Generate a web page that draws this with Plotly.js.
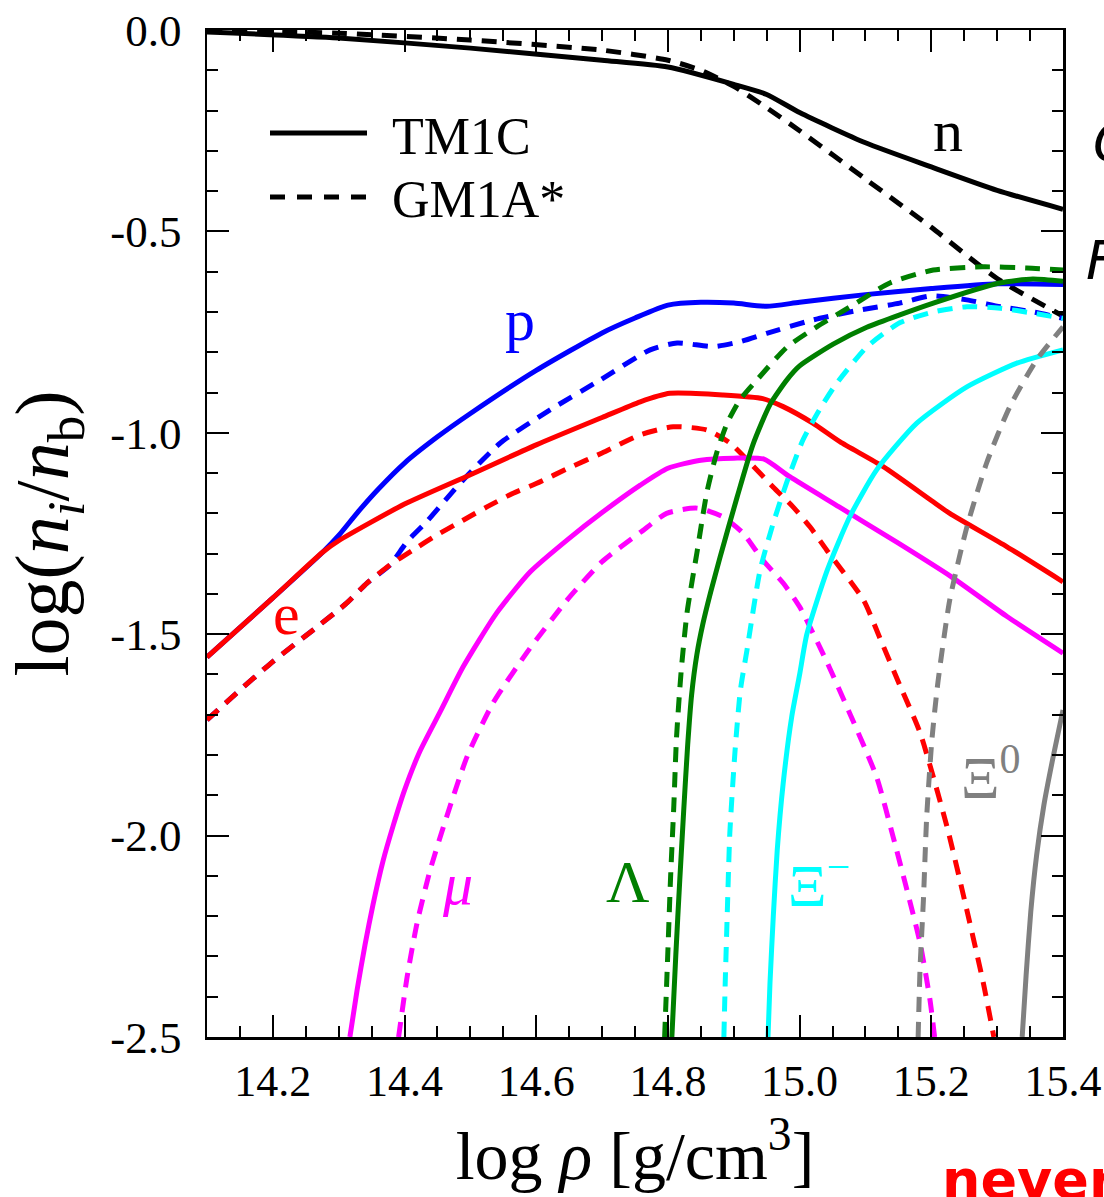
<!DOCTYPE html>
<html><head><meta charset="utf-8">
<script src="https://cdn.plot.ly/plotly-3.0.1.min.js"></script>
<style>html,body{margin:0;padding:0;background:#fff;overflow:hidden}</style>
</head><body><div id="chart" style="width:1104px;height:1197px"></div>
<script>
// ---- tick labels ----
const xTickVals = [14.2, 14.4, 14.6, 14.8, 15.0, 15.2, 15.4];
const xTickText = ['14.2', '14.4', '14.6', '14.8', '15.0', '15.2', '15.4'];
const yTickVals = [0, -0.5, -1.0, -1.5, -2.0, -2.5];
const yTickText = ['0.0', '-0.5', '-1.0', '-1.5', '-2.0', '-2.5'];

// ---- neutrons ----
const n_TM1C_x = [14.1, 14.3, 14.5, 14.7, 14.8, 14.9, 14.95, 15.0, 15.1, 15.2, 15.3, 15.4];
const n_TM1C_y = [-0.005, -0.02, -0.045, -0.075, -0.092, -0.135, -0.16, -0.205, -0.28, -0.34, -0.398, -0.445];
const n_GM1A_x = [14.1, 14.3, 14.5, 14.7, 14.8, 14.85, 14.9, 14.95, 15.0, 15.1, 15.2, 15.3, 15.4];
const n_GM1A_y = [0.0, -0.008, -0.025, -0.05, -0.075, -0.10, -0.14, -0.193, -0.25, -0.37, -0.49, -0.617, -0.71];

// ---- protons ----
const p_TM1C_x = [14.1, 14.2, 14.276, 14.3, 14.33, 14.36, 14.4, 14.45, 14.5, 14.6, 14.7, 14.75, 14.8, 14.85, 14.9, 14.95, 15.0, 15.1, 15.2, 15.3, 15.4];
const p_TM1C_y = [-1.557, -1.41, -1.296, -1.255, -1.195, -1.14, -1.075, -1.01, -0.952, -0.845, -0.752, -0.715, -0.683, -0.676, -0.678, -0.686, -0.676, -0.657, -0.642, -0.630, -0.632];
const p_GM1A_x = [14.1, 14.145, 14.2, 14.267, 14.312, 14.343, 14.378, 14.404, 14.434, 14.462, 14.489, 14.545, 14.621, 14.697, 14.773, 14.814, 14.869, 14.909, 14.95, 15.02, 15.092, 15.152, 15.2, 15.254, 15.305, 15.355, 15.4];
const p_GM1A_y = [-1.713, -1.646, -1.568, -1.482, -1.423, -1.373, -1.328, -1.27, -1.22, -1.167, -1.117, -1.026, -0.943, -0.869, -0.794, -0.777, -0.786, -0.774, -0.753, -0.72, -0.695, -0.678, -0.66, -0.67, -0.687, -0.70, -0.716];

// ---- electrons ----
const e_TM1C_x = [14.1, 14.2, 14.276, 14.3, 14.4, 14.5, 14.6, 14.7, 14.758, 14.803, 14.884, 14.944, 14.975, 15.02, 15.061, 15.127, 15.2, 15.228, 15.315, 15.4];
const e_TM1C_y = [-1.557, -1.41, -1.296, -1.268, -1.177, -1.104, -1.03, -0.962, -0.923, -0.902, -0.906, -0.915, -0.935, -0.976, -1.022, -1.084, -1.168, -1.2, -1.283, -1.37];
const e_GM1A_x = [14.1, 14.145, 14.2, 14.267, 14.312, 14.343, 14.378, 14.413, 14.449, 14.489, 14.525, 14.565, 14.6, 14.65, 14.7, 14.758, 14.808, 14.859, 14.894, 14.925, 14.96, 14.99, 15.016, 15.041, 15.097, 15.122, 15.152, 15.183, 15.224, 15.254, 15.279, 15.295];
const e_GM1A_y = [-1.713, -1.646, -1.568, -1.482, -1.423, -1.373, -1.328, -1.291, -1.254, -1.217, -1.184, -1.15, -1.126, -1.087, -1.05, -1.005, -0.985, -0.993, -1.025, -1.075, -1.135, -1.184, -1.234, -1.291, -1.415, -1.51, -1.626, -1.745, -1.979, -2.185, -2.366, -2.5];

// ---- muons ----
const mu_TM1C_x = [14.317, 14.328, 14.34, 14.352, 14.367, 14.383, 14.4, 14.423, 14.454, 14.489, 14.54, 14.591, 14.65, 14.7, 14.758, 14.8, 14.85, 14.9, 14.945, 14.985, 15.06, 15.15, 15.23, 15.315, 15.4];
const mu_TM1C_y = [-2.5, -2.383, -2.271, -2.172, -2.065, -1.974, -1.887, -1.792, -1.693, -1.581, -1.447, -1.345, -1.262, -1.198, -1.13, -1.088, -1.068, -1.063, -1.065, -1.109, -1.184, -1.274, -1.357, -1.456, -1.547];
const mu_GM1A_x = [14.391, 14.404, 14.419, 14.439, 14.464, 14.495, 14.534, 14.586, 14.647, 14.7, 14.76, 14.798, 14.844, 14.884, 14.914, 14.944, 14.975, 15.0, 15.04, 15.076, 15.117, 15.142, 15.163, 15.183, 15.198, 15.205];
const mu_GM1A_y = [-2.5, -2.35, -2.217, -2.085, -1.953, -1.804, -1.672, -1.545, -1.415, -1.32, -1.245, -1.2, -1.187, -1.209, -1.249, -1.316, -1.373, -1.432, -1.564, -1.696, -1.855, -2.003, -2.135, -2.267, -2.408, -2.5];

// ---- Lambda ----
const L_TM1C_x = [14.806, 14.812, 14.818, 14.824, 14.83, 14.836, 14.844, 14.853, 14.865, 14.879, 14.905, 14.929, 14.955, 14.981, 15.0, 15.051, 15.102, 15.203, 15.304, 15.354, 15.4];
const L_TM1C_y = [-2.5, -2.296, -2.11, -1.937, -1.775, -1.65, -1.55, -1.475, -1.395, -1.31, -1.16, -1.03, -0.93, -0.868, -0.834, -0.78, -0.738, -0.678, -0.628, -0.618, -0.624];
const L_GM1A_x = [14.795, 14.8, 14.804, 14.809, 14.813, 14.82, 14.829, 14.844, 14.859, 14.874, 14.89, 14.909, 14.935, 14.981, 15.026, 15.076, 15.137, 15.203, 15.278, 15.345, 15.4];
const L_GM1A_y = [-2.5, -2.284, -2.105, -1.924, -1.758, -1.594, -1.447, -1.298, -1.149, -1.05, -0.976, -0.919, -0.869, -0.787, -0.737, -0.688, -0.628, -0.596, -0.588, -0.591, -0.596];

// ---- Xi minus ----
const Xm_TM1C_x = [14.952, 14.955, 14.96, 14.966, 14.975, 14.988, 15.0, 15.011, 15.042, 15.076, 15.117, 15.178, 15.254, 15.33, 15.4];
const Xm_TM1C_y = [-2.5, -2.366, -2.201, -2.036, -1.871, -1.705, -1.6, -1.5, -1.341, -1.209, -1.092, -0.976, -0.886, -0.827, -0.794];
const Xm_GM1A_x = [14.885, 14.887, 14.89, 14.894, 14.902, 14.91, 14.92, 14.94, 14.96, 14.98, 15.005, 15.03, 15.055, 15.102, 15.152, 15.203, 15.254, 15.305, 15.355, 15.4];
const Xm_GM1A_y = [-2.5, -2.366, -2.2, -1.994, -1.788, -1.64, -1.54, -1.341, -1.224, -1.125, -1.018, -0.943, -0.88, -0.787, -0.727, -0.7, -0.687, -0.691, -0.703, -0.716];

// ---- Xi zero ----
const X0_TM1C_x = [15.338, 15.344, 15.351, 15.36, 15.371, 15.385, 15.4];
const X0_TM1C_y = [-2.5, -2.346, -2.19, -2.048, -1.924, -1.805, -1.688];
const X0_GM1A_x = [15.18, 15.183, 15.188, 15.193, 15.201, 15.21, 15.228, 15.254, 15.284, 15.319, 15.36, 15.4];
const X0_GM1A_y = [-2.5, -2.326, -2.16, -1.953, -1.76, -1.62, -1.415, -1.234, -1.075, -0.936, -0.819, -0.737];

// ---- curve labels ----
const labelText = ['n', 'p', 'e', '<i>μ</i>', 'Λ', 'Ξ<sup>−</sup>', 'Ξ<sup>0</sup>'];
const labelX = [15.225, 14.575, 14.221, 14.48, 14.739, 15.03, 15.29];
const labelY = [-0.25, -0.72, -1.45, -2.12, -2.115, -2.115, -1.845];
const labelColor = ['#000000', '#0000ff', '#ff0000', '#ff00ff', '#007f00', '#00ffff', '#808080'];

const legendNames = ['TM1C', 'GM1A*'];

const DASH = '15px,10px';
const series = [
  {name: 'n TM1C', x: n_TM1C_x, y: n_TM1C_y, c: '#000000', d: 'solid'},
  {name: 'n GM1A*', x: n_GM1A_x, y: n_GM1A_y, c: '#000000', d: DASH},
  {name: 'p TM1C', x: p_TM1C_x, y: p_TM1C_y, c: '#0000ff', d: 'solid'},
  {name: 'p GM1A*', x: p_GM1A_x, y: p_GM1A_y, c: '#0000ff', d: DASH},
  {name: 'e TM1C', x: e_TM1C_x, y: e_TM1C_y, c: '#ff0000', d: 'solid'},
  {name: 'e GM1A*', x: e_GM1A_x, y: e_GM1A_y, c: '#ff0000', d: DASH},
  {name: 'μ TM1C', x: mu_TM1C_x, y: mu_TM1C_y, c: '#ff00ff', d: 'solid'},
  {name: 'μ GM1A*', x: mu_GM1A_x, y: mu_GM1A_y, c: '#ff00ff', d: DASH},
  {name: 'Λ TM1C', x: L_TM1C_x, y: L_TM1C_y, c: '#007f00', d: 'solid'},
  {name: 'Λ GM1A*', x: L_GM1A_x, y: L_GM1A_y, c: '#007f00', d: DASH},
  {name: 'Ξ- TM1C', x: Xm_TM1C_x, y: Xm_TM1C_y, c: '#00ffff', d: 'solid'},
  {name: 'Ξ- GM1A*', x: Xm_GM1A_x, y: Xm_GM1A_y, c: '#00ffff', d: DASH},
  {name: 'Ξ0 TM1C', x: X0_TM1C_x, y: X0_TM1C_y, c: '#808080', d: 'solid'},
  {name: 'Ξ0 GM1A*', x: X0_GM1A_x, y: X0_GM1A_y, c: '#808080', d: DASH}
];

const traces = series.map(s => ({
  type: 'scatter', mode: 'lines', name: s.name, x: s.x, y: s.y,
  line: {color: s.c, width: 5, dash: s.d, shape: 'spline', smoothing: 0.6},
  hoverinfo: 'skip', showlegend: false
}));

const SERIF = 'Liberation Serif';
const W = 1104, H = 1197, ML = 207, MR = 41, MT = 30, MB = 160;
const PW = W - ML - MR, PH = H - MT - MB;
const px = v => (v - ML) / PW;          // pixel -> paper x
const py = v => 1 - (v - MT) / PH;      // pixel -> paper y

const annotations = labelText.map((t, i) => ({
  x: labelX[i], y: labelY[i], xref: 'x', yref: 'y', text: t, showarrow: false,
  xanchor: 'center', yanchor: 'middle',
  font: {family: SERIF, size: 60, color: labelColor[i]}
}));
// legend texts
annotations.push({x: px(390), y: py(136), xref: 'paper', yref: 'paper', text: legendNames[0], showarrow: false,
  xanchor: 'left', yanchor: 'middle', font: {family: SERIF, size: 52, color: '#000'}});
annotations.push({x: px(390), y: py(200), xref: 'paper', yref: 'paper', text: legendNames[1], showarrow: false,
  xanchor: 'left', yanchor: 'middle', font: {family: SERIF, size: 52, color: '#000'}});
// texts cut by the right / bottom edge, as in the reference
annotations.push({x: px(1091), y: py(143), xref: 'paper', yref: 'paper', text: '<i>C</i>', showarrow: false,
  xanchor: 'left', yanchor: 'middle', font: {family: 'DejaVu Sans', size: 54, color: '#000'}});
annotations.push({x: px(1084), y: py(260), xref: 'paper', yref: 'paper', text: '<i>F</i>', showarrow: false,
  xanchor: 'left', yanchor: 'middle', font: {family: 'DejaVu Sans', size: 54, color: '#000'}});
annotations.push({x: px(940), y: py(1179), xref: 'paper', yref: 'paper', text: '<b>never</b>', showarrow: false,
  xanchor: 'left', yanchor: 'middle', font: {family: 'DejaVu Sans', size: 54, color: '#ff0000'}});

const shapes = [
  {type: 'line', xref: 'paper', yref: 'paper', x0: px(270), x1: px(367), y0: py(133), y1: py(133),
   line: {color: '#000', width: 5, dash: 'solid'}},
  {type: 'line', xref: 'paper', yref: 'paper', x0: px(270), x1: px(367), y0: py(197), y1: py(197),
   line: {color: '#000', width: 5, dash: '15px,12px'}}
];

const axisCommon = {
  showline: true, linecolor: '#000', linewidth: 2.5, mirror: 'allticks',
  ticks: 'inside', ticklen: 22, tickwidth: 2, tickcolor: '#000',
  showgrid: false, zeroline: false, tickmode: 'array'
};

const layout = {
  width: W, height: H, margin: {l: ML, r: MR, t: MT, b: MB},
  paper_bgcolor: '#fff', plot_bgcolor: '#fff', showlegend: false,
  xaxis: Object.assign({}, axisCommon, {
    range: [14.1, 15.4], tickvals: xTickVals, ticktext: xTickText, ticklabelstandoff: 4,
    tickfont: {family: SERIF, size: 44, color: '#000'},
    minor: {ticks: 'inside', ticklen: 11, tickwidth: 2, tickcolor: '#000', tick0: 14.1, dtick: 0.05, showgrid: false},
    title: {text: 'log <i>ρ</i> [g/cm<sup>3</sup>]', font: {family: SERIF, size: 68, color: '#000'}, standoff: 26}
  }),
  yaxis: Object.assign({}, axisCommon, {
    range: [-2.5, 0], tickvals: yTickVals, ticktext: yTickText, ticklabelstandoff: 14,
    tickfont: {family: SERIF, size: 45, color: '#000'},
    minor: {ticks: 'inside', ticklen: 11, tickwidth: 2, tickcolor: '#000', tick0: 0, dtick: 0.1, showgrid: false},
    title: {text: 'log(<i>n<sub>i</sub></i>/<i>n</i><sub>b</sub>)', font: {family: SERIF, size: 76, color: '#000'}, standoff: 20}
  }),
  annotations: annotations, shapes: shapes
};

Plotly.newPlot('chart', traces, layout, {displayModeBar: false, staticPlot: true});
</script></body></html>
